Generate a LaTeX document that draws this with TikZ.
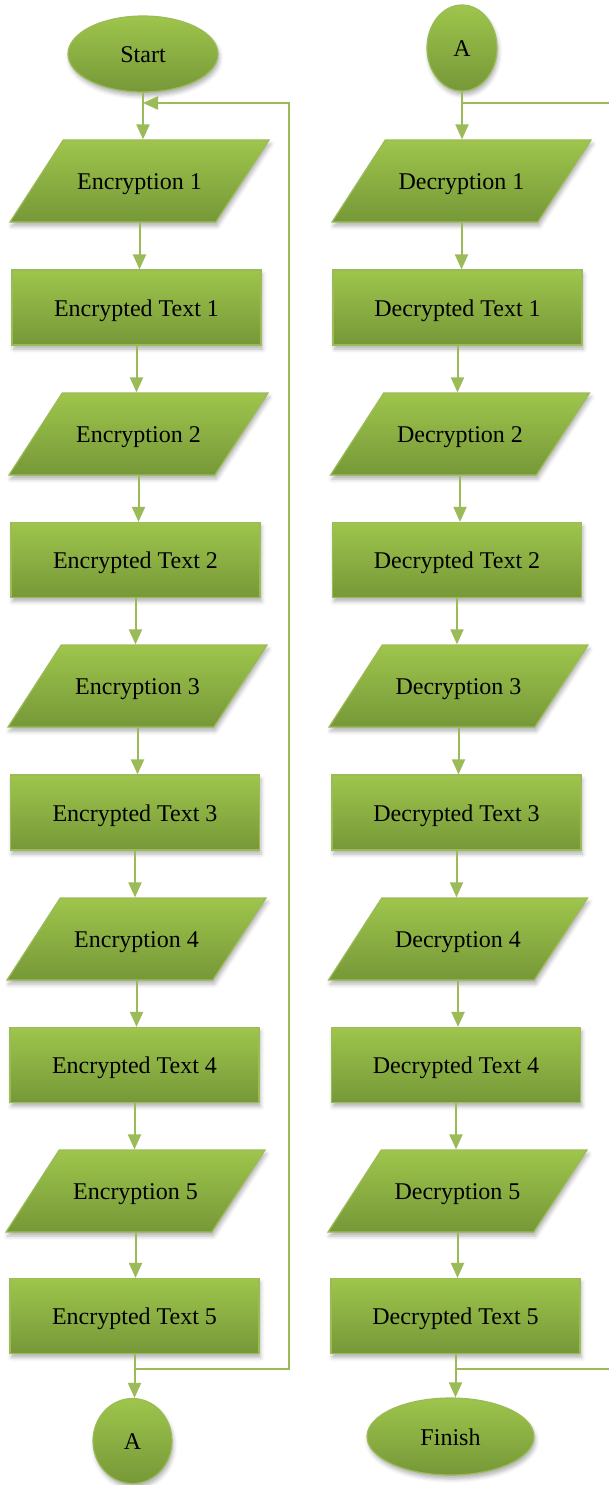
\documentclass[tikz,border=0pt]{standalone}
\usepackage{fontspec}
\setmainfont{Liberation Serif}
\usetikzlibrary{shapes.geometric,arrows.meta,shadows.blur}

\definecolor{olvtop}{HTML}{9EC54C}
\definecolor{olvbot}{HTML}{769838}
\definecolor{olvline}{HTML}{9BBB59}

\tikzset{
  box/.style={draw=olvline, line width=1.2pt, top color=olvtop, bottom color=olvbot,
    blur shadow={shadow xshift=1.5pt, shadow yshift=-4pt, shadow blur radius=4pt, shadow opacity=30},
    font=\fontsize{24}{28}\selectfont, text=black, inner sep=0pt,
    text height=17pt, text depth=0pt},
  procbox/.style={box, rectangle, minimum width=249pt, minimum height=75pt},
  % body 152.5 wide, 82 high; the 57 degree sides add 53.25 on each side
  iobox/.style={box, trapezium, trapezium left angle=57, trapezium right angle=123,
    inner xsep=0pt, inner ysep=32.5pt,
    execute at begin node={\hbox to 152.5pt\bgroup\hss},
    execute at end node={\hss\egroup}},
  termbox/.style={box, ellipse},
  flow/.style={draw=olvline, line width=2pt, -{Triangle[length=15pt,width=13pt]}},
  loopline/.style={draw=olvline, line width=2pt}
}

\begin{document}
\begin{tikzpicture}[x=1pt, y=-1pt]
\useasboundingbox (0,0) rectangle (608,1485);

% encryption column
\node[termbox, minimum width=150pt, minimum height=76pt] (start) at (143,54) {Start};
\node[iobox]   (e1) at (139.5,181)   {Encryption 1};
\node[procbox] (t1) at (136.5,307.5) {Encrypted Text 1};
\node[iobox]   (e2) at (138.5,434)   {Encryption 2};
\node[procbox] (t2) at (135.5,560)   {Encrypted Text 2};
\node[iobox]   (e3) at (137.5,686)   {Encryption 3};
\node[procbox] (t3) at (135,812.5)   {Encrypted Text 3};
\node[iobox]   (e4) at (136.5,939)   {Encryption 4};
\node[procbox] (t4) at (134.5,1065)  {Encrypted Text 4};
\node[iobox]   (e5) at (135.5,1191)  {Encryption 5};
\node[procbox] (t5) at (134.5,1316)  {Encrypted Text 5};
\node[termbox, minimum width=79pt, minimum height=85pt] (aout) at (132.5,1441) {A};

% decryption column
\node[termbox, minimum width=70pt, minimum height=86pt] (ain) at (462,48) {A};
\node[iobox]   (d1) at (461.5,181)   {Decryption 1};
\node[procbox] (u1) at (457.5,307.5) {Decrypted Text 1};
\node[iobox]   (d2) at (460,434)     {Decryption 2};
\node[procbox] (u2) at (457,560)     {Decrypted Text 2};
\node[iobox]   (d3) at (458.5,686)   {Decryption 3};
\node[procbox] (u3) at (456.5,812.5) {Decrypted Text 3};
\node[iobox]   (d4) at (458,939)     {Decryption 4};
\node[procbox] (u4) at (456,1065)    {Decrypted Text 4};
\node[iobox]   (d5) at (457.5,1191)  {Decryption 5};
\node[procbox] (u5) at (455.5,1316)  {Decrypted Text 5};
\node[termbox, minimum width=167pt, minimum height=77pt] (finish) at (450.5,1436.5) {Finish};

% straight flow arrows
\foreach \a/\b in {start/e1, e1/t1, t1/e2, e2/t2, t2/e3, e3/t3, t3/e4, e4/t4, t4/e5, e5/t5, t5/aout,
                   ain/d1, d1/u1, u1/d2, d2/u2, u2/d3, d3/u3, u3/d4, d4/u4, u4/d5, d5/u5, u5/finish}
  \draw[flow] (\a.south) -- (\a.south |- \b.north);

% feedback loop of the encryption column
\coordinate (lbot) at (t5.south |- 0,1369);
\coordinate (ltop) at (start.south |- 0,103);
\coordinate (lcorner) at (289,103);
\draw[loopline, -{Triangle[length=15pt,width=13pt]}] (lbot) -| (lcorner) -- (ltop);

% loop of the decryption column, running along the right edge
\coordinate (rtop) at (ain.south |- 0,103);
\coordinate (rbot) at (u5.south |- 0,1369);
\coordinate (rcorner) at (611,103);
\draw[loopline] (rtop) -- (rcorner) |- (rbot);
\end{tikzpicture}
\end{document}
